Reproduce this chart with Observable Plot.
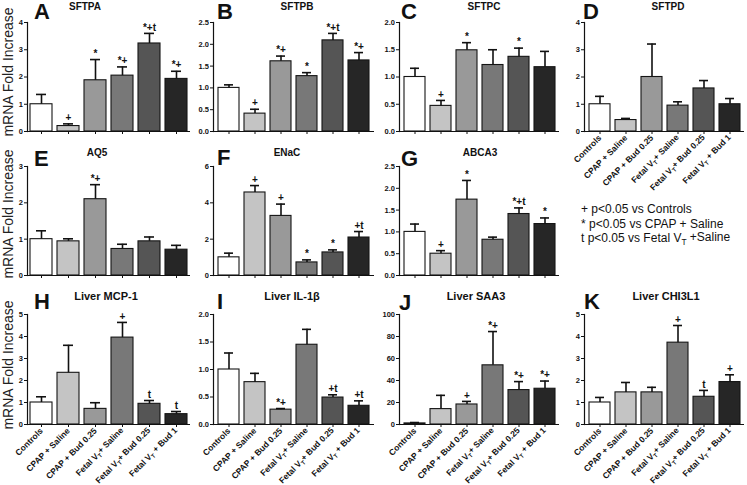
<!DOCTYPE html>
<html>
<head>
<meta charset="utf-8">
<script src="https://cdn.jsdelivr.net/npm/d3@7"></script>
<script src="https://cdn.jsdelivr.net/npm/@observablehq/plot@0.6"></script>
<style>
  html, body { margin: 0; padding: 0; background: #fff; }
  #fig { position: relative; width: 747px; height: 485px; overflow: hidden; background: #fff;
         font-family: "Liberation Sans", Arial, sans-serif; }
  .pane { position: absolute; }
  .pane svg { overflow: visible; }
  #overlay { position: absolute; left: 0; top: 0; pointer-events: none; }
</style>
</head>
<body>
<div id="fig"></div>
<script>
// ---------- data ----------
const groups = ["Controls", "CPAP + Saline", "CPAP + Bud 0.25", "Fetal VT+ Saline", "Fetal VT+ Bud 0.25", "Fetal VT + Bud 1"];
const groupColors = ["#ffffff", "#c4c4c4", "#999999", "#787878", "#555555", "#262626"];

const sftpaMean = [1.0, 0.2, 1.88, 2.05, 3.23, 1.93];
const sftpaSem  = [0.36, 0.08, 0.76, 0.32, 0.37, 0.28];
const sftpaSig  = ["", "+", "*", "*+", "*+t", "*+"];

const sftpbMean = [1.0, 0.41, 1.61, 1.27, 2.09, 1.63];
const sftpbSem  = [0.07, 0.10, 0.12, 0.08, 0.16, 0.18];
const sftpbSig  = ["", "+", "*+", "*", "*+t", "*+"];

const sftpcMean = [1.0, 0.47, 1.49, 1.22, 1.37, 1.18];
const sftpcSem  = [0.16, 0.10, 0.14, 0.28, 0.16, 0.29];
const sftpcSig  = ["", "+", "*", "", "*", ""];

const sftpdMean = [1.0, 0.42, 2.0, 0.95, 1.58, 1.0];
const sftpdSem  = [0.29, 0.06, 1.21, 0.14, 0.29, 0.21];
const sftpdSig  = ["", "", "", "", "", ""];

const aq5Mean = [1.0, 0.94, 2.1, 0.73, 0.94, 0.71];
const aq5Sem  = [0.23, 0.07, 0.40, 0.13, 0.12, 0.12];
const aq5Sig  = ["", "", "*+", "", "", ""];

const enacMean = [1.0, 4.57, 3.28, 0.72, 1.27, 2.09];
const enacSem  = [0.23, 0.38, 0.65, 0.14, 0.14, 0.33];
const enacSig  = ["", "+", "+", "*", "*", "+t"];

const abca3Mean = [1.0, 0.5, 1.74, 0.82, 1.41, 1.18];
const abca3Sem  = [0.18, 0.07, 0.44, 0.06, 0.14, 0.14];
const abca3Sig  = ["", "+", "*", "", "*+t", "*"];

const mcp1Mean = [1.0, 2.35, 0.71, 3.95, 0.94, 0.47];
const mcp1Sem  = [0.26, 1.25, 0.28, 0.69, 0.15, 0.12];
const mcp1Sig  = ["", "", "", "+", "t", "t"];

const il1bMean = [1.0, 0.77, 0.27, 1.45, 0.49, 0.34];
const il1bSem  = [0.30, 0.16, 0.02, 0.28, 0.05, 0.09];
const il1bSig  = ["", "", "*+", "", "+t", "+t"];

const saa3Mean = [1.0, 14.0, 18.2, 53.8, 31.3, 32.5];
const saa3Sem  = [0.8, 12.5, 2.8, 30.7, 7.7, 7.0];
const saa3Sig  = ["", "", "+", "*+", "*+", "*+"];

const chi3l1Mean = [1.0, 1.46, 1.46, 3.72, 1.26, 1.93];
const chi3l1Sem  = [0.23, 0.45, 0.23, 0.78, 0.29, 0.33];
const chi3l1Sig  = ["", "", "", "+", "t", "+"];

const yAxisTitle = "mRNA Fold Increase";
const legendLines = ["+ p<0.05 vs Controls", "* p<0.05 vs CPAP + Saline", "t p<0.05 vs Fetal VT +Saline"];

// ---------- panel definitions ----------
const panels = [
  {letter: "A", title: "SFTPA", mean: sftpaMean, sem: sftpaSem, sig: sftpaSig, max: 4, step: 1, fmt: "d", col: 0, row: 0, labels: false},
  {letter: "B", title: "SFTPB", mean: sftpbMean, sem: sftpbSem, sig: sftpbSig, max: 2.5, step: 0.5, fmt: ".1f", col: 1, row: 0, labels: false},
  {letter: "C", title: "SFTPC", mean: sftpcMean, sem: sftpcSem, sig: sftpcSig, max: 2, step: 0.5, fmt: ".1f", col: 2, row: 0, labels: false},
  {letter: "D", title: "SFTPD", mean: sftpdMean, sem: sftpdSem, sig: sftpdSig, max: 4, step: 1, fmt: "d", col: 3, row: 0, labels: true},
  {letter: "E", title: "AQ5", mean: aq5Mean, sem: aq5Sem, sig: aq5Sig, max: 3, step: 1, fmt: "d", col: 0, row: 1, labels: false},
  {letter: "F", title: "ENaC", mean: enacMean, sem: enacSem, sig: enacSig, max: 6, step: 2, fmt: "d", col: 1, row: 1, labels: false},
  {letter: "G", title: "ABCA3", mean: abca3Mean, sem: abca3Sem, sig: abca3Sig, max: 2.5, step: 0.5, fmt: ".1f", col: 2, row: 1, labels: false},
  {letter: "H", title: "Liver MCP-1", mean: mcp1Mean, sem: mcp1Sem, sig: mcp1Sig, max: 5, step: 1, fmt: "d", col: 0, row: 2, labels: true},
  {letter: "I", title: "Liver IL-1β", mean: il1bMean, sem: il1bSem, sig: il1bSig, max: 2, step: 0.5, fmt: ".1f", col: 1, row: 2, labels: true},
  {letter: "J", title: "Liver SAA3", mean: saa3Mean, sem: saa3Sem, sig: saa3Sig, max: 100, step: 20, fmt: "d", col: 2, row: 2, labels: true},
  {letter: "K", title: "Liver CHI3L1", mean: chi3l1Mean, sem: chi3l1Sem, sig: chi3l1Sig, max: 5, step: 1, fmt: "d", col: 3, row: 2, labels: true}
];

// ---------- layout ----------
const colAxis  = [27, 213, 399, 584];
const colRight = [190, 374, 559, 744];
const rowTop   = [22, 166, 314];
const rowBot   = [131, 275, 424];
const letterPos = {A:[34,19],B:[217,19],C:[401,19],D:[583,19],E:[34,166],F:[217,165],G:[401,166],H:[34,309],I:[217,309],J:[399,310],K:[584,309]};
const titleX = {A:85,B:297,C:484,D:668,E:97,F:287,G:480,H:106,I:292,J:476,K:666};
const titleY = [10, 156, 300];
const titleSize = [10, 10, 11];
const yTitleY = [72, 214, 365];

const fig = d3.select("#fig");

function subscriptT(svgNode) {
  d3.select(svgNode).selectAll("text").each(function () {
    const t = this.textContent;
    if (!t || !t.includes("VT")) return;
    const [a, b] = t.split("VT");
    const sel = d3.select(this);
    sel.text(null);
    sel.append("tspan").text(a + "V");
    sel.append("tspan").attr("font-size", "70%").attr("dy", "0.3em").text("T");
    sel.append("tspan").attr("dy", "-0.3em").text(b);
  });
}

for (const p of panels) {
  const rows = groups.map((g, i) => ({g, m: p.mean[i], u: p.mean[i] + p.sem[i], s: p.sig[i]}));
  const ml = 30, mr = 2, mt = 4, mb = p.labels ? 80 : 8;
  const L = colRight[p.col] - colAxis[p.col];
  const Hh = rowBot[p.row] - rowTop[p.row];
  const W = ml + L + mr, H = mt + Hh + mb;
  const ticks = d3.range(0, p.max + 1e-9, p.step);
  const fmt = d3.format(p.fmt);
  const chart = Plot.plot({
    width: W, height: H,
    marginLeft: ml, marginRight: mr, marginTop: mt, marginBottom: mb,
    style: {background: "transparent", overflow: "visible", fontFamily: "'Liberation Sans', Arial, sans-serif", fontWeight: "bold", color: "#111"},
    x: {type: "band", domain: groups, paddingInner: 0.2, paddingOuter: 0.1, label: null},
    y: {domain: [0, p.max], label: null},
    color: {domain: groups, range: groupColors},
    marks: [
      Plot.axisY({ticks, tickFormat: fmt, tickSize: 3, tickPadding: 1.5, label: null, strokeWidth: 1}),
      Plot.axisX({tickSize: 3, tickPadding: 2, label: null, tickRotate: -45,
                  tickFormat: p.labels ? (d => d) : (() => "")}),
      Plot.barY(rows, {x: "g", y: "m", fill: "g", stroke: "#151515", strokeWidth: 1.1}),
      Plot.ruleX(rows, {x: "g", y1: "m", y2: "u", stroke: "#111", strokeWidth: 1.6}),
      Plot.tickY(rows, {x: "g", y: "u", stroke: "#111", strokeWidth: 1.6, insetLeft: 6, insetRight: 6}),
      Plot.text(rows, {x: "g", y: "u", text: "s", dy: -6, fontSize: 10, fontWeight: "bold", fill: "#111"}),
      Plot.frame({anchor: "left", stroke: "#111", strokeWidth: 1.2}),
      Plot.ruleY([0], {stroke: "#111", strokeWidth: 1.2})
    ]
  });
  d3.select(chart).selectAll('g[aria-label="y-axis tick label"]').style("font-size", "7.5px").style("font-weight", "bold");
  d3.select(chart).selectAll('g[aria-label="x-axis tick label"]').style("font-size", "8.5px").style("font-weight", "bold");
  subscriptT(chart);
  fig.append("div").attr("class", "pane")
    .style("left", (colAxis[p.col] - ml) + "px")
    .style("top", (rowTop[p.row] - mt) + "px")
    .style("width", W + "px").style("height", H + "px")
    .node().appendChild(chart);
}

// ---------- text overlay ----------
const ov = fig.append("svg").attr("id", "overlay").attr("width", 747).attr("height", 485)
  .style("font-family", "'Liberation Sans', Arial, sans-serif");

for (const p of panels) {
  const [lx, ly] = letterPos[p.letter];
  ov.append("text").attr("x", lx).attr("y", ly).attr("font-size", 22).attr("font-weight", "bold")
    .attr("fill", "#111").text(p.letter);
  ov.append("text").attr("x", titleX[p.letter]).attr("y", titleY[p.row]).attr("text-anchor", "middle")
    .attr("font-size", titleSize[p.row]).attr("font-weight", "bold").attr("fill", "#111").text(p.title);
}
for (const cy of yTitleY) {
  ov.append("text").attr("transform", `translate(13,${cy}) rotate(-90)`).attr("text-anchor", "middle")
    .attr("font-size", 14).attr("fill", "#222").text(yAxisTitle);
}
legendLines.forEach((t, i) => {
  ov.append("text").attr("x", 581).attr("y", 213 + i * 14.5).attr("font-size", 12).attr("fill", "#111").text(t);
});
subscriptT(ov.node());
</script>
</body>
</html>
